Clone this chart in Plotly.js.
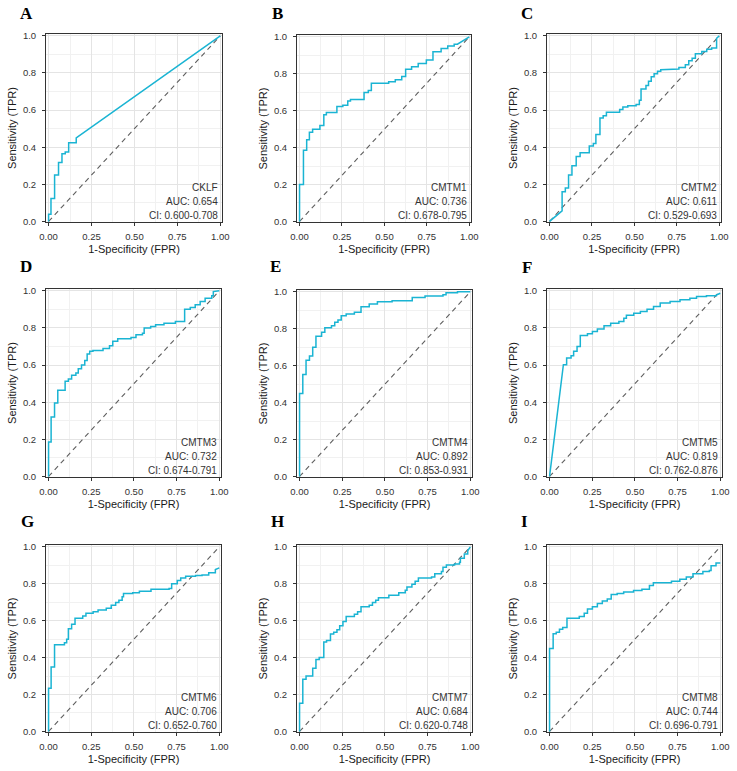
<!DOCTYPE html>
<html>
<head>
<meta charset="utf-8">
<script src="https://cdn.plot.ly/plotly-3.0.1.min.js"></script>
<style>html,body{margin:0;padding:0;background:#fff;}#chart{width:737px;height:771px;}</style>
</head>
<body>
<div id="chart"></div>
<script>
// ---------- DATA ----------
const panelLetters = ['A','B','C','D','E','F','G','H','I'];
const genes = ['CKLF','CMTM1','CMTM2','CMTM3','CMTM4','CMTM5','CMTM6','CMTM7','CMTM8'];
const aucs = ['0.654','0.736','0.611','0.732','0.892','0.819','0.706','0.684','0.744'];
const cis = ['0.600-0.708','0.678-0.795','0.529-0.693','0.674-0.791','0.853-0.931','0.762-0.876','0.652-0.760','0.620-0.748','0.696-0.791'];

// ROC vertices [FPR, TPR]
const rocA = [[0,0],[0,0.039],[0.014,0.039],[0.014,0.123],[0.035,0.123],[0.035,0.25],[0.058,0.25],[0.058,0.317],[0.078,0.317],[0.078,0.365],[0.097,0.365],[0.097,0.374],[0.117,0.374],[0.117,0.424],[0.161,0.424],[0.161,0.45],[1,1]];
const rocB = [[0,0],[0,0.20],[0.023,0.20],[0.023,0.386],[0.042,0.386],[0.042,0.443],[0.058,0.443],[0.058,0.483],[0.077,0.483],[0.077,0.50],[0.12,0.50],[0.12,0.52],[0.143,0.52],[0.143,0.578],[0.158,0.578],[0.158,0.59],[0.22,0.59],[0.22,0.623],[0.255,0.623],[0.255,0.63],[0.284,0.63],[0.284,0.653],[0.30,0.653],[0.30,0.66],[0.38,0.66],[0.38,0.698],[0.405,0.698],[0.405,0.709],[0.423,0.709],[0.423,0.748],[0.525,0.748],[0.525,0.757],[0.564,0.757],[0.564,0.767],[0.602,0.767],[0.602,0.785],[0.625,0.785],[0.625,0.824],[0.66,0.824],[0.66,0.838],[0.699,0.838],[0.699,0.856],[0.747,0.856],[0.747,0.874],[0.786,0.874],[0.786,0.919],[0.834,0.919],[0.834,0.937],[0.873,0.937],[0.873,0.95],[0.911,0.95],[0.911,0.96],[0.93,0.96],[1,1]];
const rocC = [[0,0],[0.074,0.057],[0.074,0.16],[0.093,0.16],[0.093,0.18],[0.112,0.18],[0.112,0.25],[0.132,0.25],[0.132,0.30],[0.157,0.30],[0.157,0.35],[0.18,0.35],[0.18,0.37],[0.234,0.37],[0.234,0.406],[0.258,0.406],[0.258,0.42],[0.273,0.42],[0.273,0.469],[0.297,0.469],[0.297,0.558],[0.316,0.558],[0.316,0.57],[0.335,0.57],[0.335,0.588],[0.413,0.588],[0.413,0.603],[0.432,0.603],[0.432,0.617],[0.461,0.617],[0.461,0.624],[0.51,0.624],[0.51,0.63],[0.529,0.63],[0.529,0.653],[0.539,0.653],[0.539,0.714],[0.568,0.714],[0.568,0.732],[0.583,0.732],[0.583,0.755],[0.599,0.755],[0.599,0.78],[0.616,0.78],[0.616,0.796],[0.636,0.796],[0.636,0.809],[0.655,0.809],[0.655,0.818],[0.713,0.818],[0.713,0.821],[0.762,0.821],[0.762,0.83],[0.80,0.83],[0.80,0.844],[0.82,0.844],[0.82,0.866],[0.84,0.866],[0.84,0.88],[0.859,0.88],[0.859,0.903],[0.897,0.903],[0.897,0.916],[0.926,0.916],[0.926,0.928],[0.955,0.928],[0.955,0.934],[0.984,0.934],[0.984,0.987],[1,1]];
const rocD = [[0,0],[0,0.186],[0.015,0.186],[0.015,0.32],[0.035,0.32],[0.035,0.396],[0.054,0.396],[0.054,0.464],[0.097,0.464],[0.097,0.513],[0.116,0.513],[0.116,0.525],[0.135,0.525],[0.135,0.545],[0.16,0.545],[0.16,0.557],[0.174,0.557],[0.174,0.58],[0.193,0.58],[0.193,0.60],[0.212,0.60],[0.212,0.625],[0.226,0.625],[0.226,0.66],[0.241,0.66],[0.241,0.674],[0.26,0.674],[0.26,0.679],[0.319,0.679],[0.319,0.69],[0.357,0.69],[0.357,0.704],[0.376,0.704],[0.376,0.728],[0.405,0.728],[0.405,0.742],[0.483,0.742],[0.483,0.749],[0.512,0.749],[0.512,0.763],[0.55,0.763],[0.55,0.772],[0.56,0.772],[0.56,0.80],[0.598,0.80],[0.598,0.808],[0.627,0.808],[0.627,0.817],[0.676,0.817],[0.676,0.826],[0.743,0.826],[0.743,0.835],[0.797,0.835],[0.797,0.901],[0.83,0.901],[0.83,0.91],[0.859,0.91],[0.859,0.925],[0.888,0.925],[0.888,0.943],[0.917,0.943],[0.917,0.96],[0.956,0.96],[0.956,0.973],[0.965,0.973],[0.965,0.996],[1,1]];
const rocE = [[0,0],[0,0.45],[0.019,0.45],[0.019,0.552],[0.038,0.552],[0.038,0.629],[0.058,0.629],[0.058,0.652],[0.077,0.652],[0.077,0.70],[0.096,0.70],[0.096,0.76],[0.129,0.76],[0.129,0.781],[0.148,0.781],[0.148,0.805],[0.187,0.805],[0.187,0.817],[0.206,0.817],[0.206,0.835],[0.225,0.835],[0.225,0.848],[0.244,0.848],[0.244,0.871],[0.273,0.871],[0.273,0.88],[0.321,0.88],[0.321,0.889],[0.36,0.889],[0.36,0.919],[0.408,0.919],[0.408,0.934],[0.456,0.934],[0.456,0.946],[0.542,0.946],[0.542,0.952],[0.66,0.952],[0.66,0.97],[0.735,0.97],[0.735,0.978],[0.84,0.978],[0.84,0.984],[0.858,0.984],[0.858,0.995],[0.925,0.995],[0.925,1],[1,1]];
const rocF = [[0,0],[0.081,0.602],[0.10,0.602],[0.10,0.638],[0.126,0.638],[0.126,0.65],[0.141,0.65],[0.141,0.674],[0.161,0.674],[0.161,0.70],[0.18,0.70],[0.18,0.76],[0.222,0.76],[0.222,0.769],[0.251,0.769],[0.251,0.781],[0.28,0.781],[0.28,0.794],[0.319,0.794],[0.319,0.812],[0.358,0.812],[0.358,0.826],[0.406,0.826],[0.406,0.835],[0.435,0.835],[0.435,0.853],[0.45,0.853],[0.45,0.869],[0.493,0.869],[0.493,0.88],[0.532,0.88],[0.532,0.889],[0.571,0.889],[0.571,0.901],[0.609,0.901],[0.609,0.916],[0.648,0.916],[0.648,0.934],[0.706,0.934],[0.706,0.943],[0.764,0.943],[0.764,0.952],[0.822,0.952],[0.822,0.96],[0.861,0.96],[0.861,0.97],[0.919,0.97],[0.919,0.973],[0.977,0.973],[0.977,0.978],[1,0.987]];
const rocG = [[0,0],[0,0.234],[0.015,0.234],[0.015,0.349],[0.035,0.349],[0.035,0.47],[0.093,0.47],[0.093,0.48],[0.106,0.48],[0.106,0.50],[0.116,0.50],[0.116,0.556],[0.135,0.556],[0.135,0.581],[0.155,0.581],[0.155,0.613],[0.20,0.613],[0.20,0.626],[0.219,0.626],[0.219,0.64],[0.261,0.64],[0.261,0.649],[0.29,0.649],[0.29,0.658],[0.338,0.658],[0.338,0.667],[0.367,0.667],[0.367,0.684],[0.393,0.684],[0.393,0.699],[0.412,0.699],[0.412,0.711],[0.431,0.711],[0.431,0.729],[0.439,0.729],[0.439,0.747],[0.493,0.747],[0.493,0.752],[0.532,0.752],[0.532,0.759],[0.60,0.759],[0.60,0.77],[0.706,0.77],[0.706,0.774],[0.721,0.774],[0.721,0.80],[0.754,0.80],[0.754,0.818],[0.774,0.818],[0.774,0.831],[0.803,0.831],[0.803,0.841],[0.861,0.841],[0.861,0.845],[0.899,0.845],[0.899,0.848],[0.938,0.848],[0.938,0.859],[0.977,0.859],[0.977,0.877],[1,0.886]];
const rocH = [[0,0],[0,0.153],[0.019,0.153],[0.019,0.283],[0.038,0.283],[0.038,0.301],[0.077,0.301],[0.077,0.342],[0.096,0.342],[0.096,0.39],[0.115,0.39],[0.115,0.40],[0.142,0.40],[0.142,0.485],[0.158,0.485],[0.158,0.492],[0.181,0.492],[0.181,0.528],[0.20,0.528],[0.20,0.538],[0.219,0.538],[0.219,0.551],[0.235,0.551],[0.235,0.572],[0.254,0.572],[0.254,0.595],[0.273,0.595],[0.273,0.622],[0.321,0.622],[0.321,0.635],[0.34,0.635],[0.34,0.649],[0.36,0.649],[0.36,0.676],[0.408,0.676],[0.408,0.684],[0.427,0.684],[0.427,0.699],[0.446,0.699],[0.446,0.711],[0.462,0.711],[0.462,0.724],[0.523,0.724],[0.523,0.738],[0.581,0.738],[0.581,0.752],[0.619,0.752],[0.619,0.765],[0.629,0.765],[0.629,0.783],[0.658,0.783],[0.658,0.797],[0.677,0.797],[0.677,0.813],[0.696,0.813],[0.696,0.831],[0.773,0.831],[0.773,0.836],[0.792,0.836],[0.792,0.854],[0.831,0.854],[0.831,0.866],[0.84,0.866],[0.84,0.889],[0.86,0.889],[0.86,0.902],[0.908,0.902],[0.908,0.907],[0.937,0.907],[0.937,0.916],[0.942,0.916],[0.942,0.938],[0.965,0.938],[0.965,0.961],[0.985,0.961],[0.985,0.979],[1,1]];
const rocI = [[0,0],[0,0.449],[0.021,0.449],[0.021,0.529],[0.039,0.529],[0.039,0.538],[0.058,0.538],[0.058,0.554],[0.077,0.554],[0.077,0.563],[0.102,0.563],[0.102,0.613],[0.174,0.613],[0.174,0.622],[0.203,0.622],[0.203,0.64],[0.222,0.64],[0.222,0.663],[0.251,0.663],[0.251,0.676],[0.28,0.676],[0.28,0.693],[0.309,0.693],[0.309,0.706],[0.338,0.706],[0.338,0.717],[0.361,0.717],[0.361,0.742],[0.396,0.742],[0.396,0.747],[0.434,0.747],[0.434,0.756],[0.492,0.756],[0.492,0.763],[0.541,0.763],[0.541,0.77],[0.585,0.77],[0.585,0.791],[0.608,0.791],[0.608,0.806],[0.714,0.806],[0.714,0.813],[0.763,0.813],[0.763,0.824],[0.801,0.824],[0.801,0.836],[0.84,0.836],[0.84,0.854],[0.898,0.854],[0.898,0.866],[0.936,0.866],[0.936,0.872],[0.946,0.872],[0.946,0.898],[0.975,0.898],[0.975,0.913],[1,0.913]];
const rocs = [rocA, rocB, rocC, rocD, rocE, rocF, rocG, rocH, rocI];
const refLine = [[0,0],[1,1]];
const xTickVals = [0, 0.25, 0.5, 0.75, 1];
const xTickText = ['0.00','0.25','0.50','0.75','1.00'];
const yTickVals = [0, 0.2, 0.4, 0.6, 0.8, 1];
const yTickText = ['0.0','0.2','0.4','0.6','0.8','1.0'];

// ---------- LAYOUT (pixel boxes of each plot area) ----------
const W = 737, H = 771;
const boxes = [[46,222,34,222],[297,471,35,222],[547,721,34,222],
               [46,221,289,477],[297,472,290,477],[547,722,289,477],
               [46,221,545,732],[297,472,545,732],[547,722,545,732]];
const letterPos = [[26,13],[277,13],[527,13],[26,266],[275,266],[527,267],[27,521],[277,521],[524,521]];

const lineColor = '#1AB4D3';
const sans = 'Liberation Sans, Arial, Helvetica, sans-serif';
const traces = [];
const layout = {
  width: W, height: H,
  margin: {l:0, r:0, t:0, b:0},
  paper_bgcolor: '#fff', plot_bgcolor: '#fff',
  showlegend: false,
  annotations: []
};

rocs.forEach((roc, i) => {
  const n = i === 0 ? '' : String(i + 1);
  const xa = 'x' + n, ya = 'y' + n;
  traces.push({
    x: refLine.map(p => p[0]), y: refLine.map(p => p[1]),
    xaxis: xa, yaxis: ya, mode: 'lines', hoverinfo: 'skip',
    line: {color: '#5e5e5e', width: 1.1, dash: '5px,4px'}
  });
  traces.push({
    x: roc.map(p => p[0]), y: roc.map(p => p[1]),
    xaxis: xa, yaxis: ya, mode: 'lines',
    line: {color: lineColor, width: 1.5}
  });
  const b = boxes[i];
  const common = {
    showline: true, mirror: true, linecolor: '#333', linewidth: 1,
    ticks: 'outside', ticklen: 3, tickcolor: '#333', tickwidth: 1,
    zeroline: false, showgrid: true, gridcolor: '#e4e4e4', gridwidth: 1,
    tickfont: {family: sans, size: 9.5, color: '#333'},
    fixedrange: true
  };
  layout['xaxis' + n] = Object.assign({}, common, {
    domain: [b[0] / W, b[1] / W], anchor: ya,
    range: [-0.015, 1.01], tickmode: 'array', tickvals: xTickVals, ticktext: xTickText,
    ticklabelstandoff: 3,
    minor: {tickmode: 'linear', tick0: 0, dtick: 0.125, showgrid: true, gridcolor: '#f1f1f1', gridwidth: 1},
    title: {text: '1-Specificity (FPR)', font: {family: sans, size: 11, color: '#1a1a1a'}, standoff: 3}
  });
  layout['yaxis' + n] = Object.assign({}, common, {
    domain: [1 - b[3] / H, 1 - b[2] / H], anchor: xa,
    range: [-0.003, 1.01], tickmode: 'array', tickvals: yTickVals, ticktext: yTickText,
    ticklabelstandoff: 4,
    minor: {tickmode: 'linear', tick0: 0, dtick: 0.1, showgrid: true, gridcolor: '#f1f1f1', gridwidth: 1},
    title: {text: 'Sensitivity (TPR)', font: {family: sans, size: 11, color: '#1a1a1a'}, standoff: 4}
  });
  const txt = [genes[i], 'AUC: ' + aucs[i], 'CI: ' + cis[i]];
  const fr = [0.185, 0.107, 0.037];
  txt.forEach((t, k) => {
    layout.annotations.push({
      text: t, xref: xa + ' domain', yref: ya + ' domain',
      x: 0.986, y: fr[k], xanchor: 'right', yanchor: 'middle', showarrow: false,
      font: {family: sans, size: 10, color: '#333'}
    });
  });
  layout.annotations.push({
    text: '<b>' + panelLetters[i] + '</b>', xref: 'paper', yref: 'paper',
    x: letterPos[i][0] / W, y: 1 - letterPos[i][1] / H, xanchor: 'center', yanchor: 'middle',
    showarrow: false, font: {family: 'Liberation Serif, Times New Roman, serif', size: 17, color: '#000'}
  });
});

Plotly.newPlot('chart', traces, layout, {displayModeBar: false, staticPlot: true});
</script>
</body>
</html>
